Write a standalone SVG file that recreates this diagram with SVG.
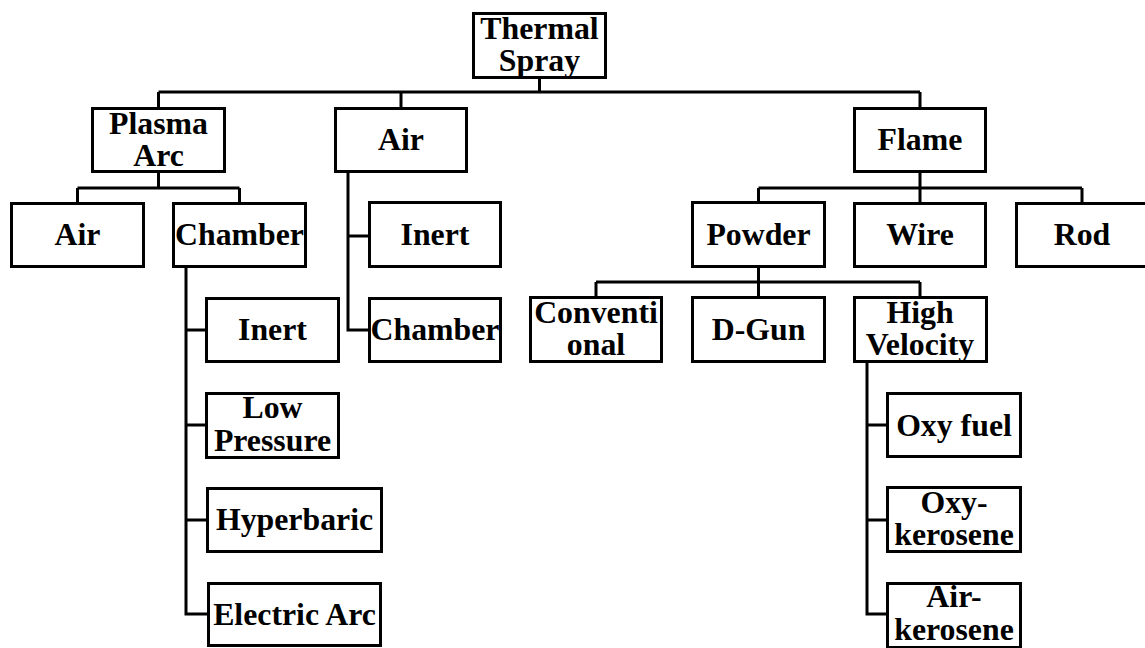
<svg xmlns="http://www.w3.org/2000/svg" width="1145" height="648" viewBox="0 0 1145 648">
<style>
rect{fill:#fff;stroke:#000;stroke-width:3}
text{font-family:'Liberation Serif','Times New Roman',Times,serif;font-weight:700;font-size:31.8px;text-anchor:middle;fill:#000}
.c{fill:none;stroke:#000;stroke-width:3}
</style>
<rect x="0" y="0" width="1145" height="648" style="stroke:none"/>
<g id="connectors">
<path class="c" d="M539.5,79 V92 M158.5,92 H920 M158.5,92 V107 M401,92 V107 M920,92 V107"/>
<path class="c" d="M158.5,173 V188 M77.5,188 H239.5 M77.5,188 V202 M239.5,188 V202"/>
<path class="c" d="M348,173 V330 H368 M348,236 H368"/>
<path class="c" d="M920,173 V188 M758.5,188 H1082 M758.5,188 V202 M920,188 V202 M1082,188 V202"/>
<path class="c" d="M758.5,268 V282 M596,282 H920 M596,282 V296 M758.5,282 V296 M920,282 V296"/>
<path class="c" d="M186,268 V614 H207 M186,330 H206 M186,425 H206 M186,520 H207"/>
<path class="c" d="M867,363 V614 H886 M867,425 H886 M867,520 H886"/>
</g>
<g font-family="Liberation Serif, serif" font-weight="bold">
<g id="thermal-spray"><rect x="473.5" y="13.5" width="132" height="64"/><text x="539.5" y="39">Thermal</text><text x="539.5" y="71">Spray</text></g>
<g id="plasma-arc"><rect x="92.5" y="108.5" width="132" height="63"/><text x="158.5" y="133.5">Plasma</text><text x="158.5" y="165.5">Arc</text></g>
<g id="air-mid"><rect x="335.5" y="108.5" width="131" height="63"/><text x="401" y="150">Air</text></g>
<g id="flame"><rect x="854.5" y="108.5" width="131" height="63"/><text x="920" y="150">Flame</text></g>
<g id="air-left"><rect x="11.5" y="203.5" width="132" height="63"/><text x="77.5" y="245">Air</text></g>
<g id="chamber-left"><rect x="173.5" y="203.5" width="132" height="63"/><text x="239.5" y="245">Chamber</text></g>
<g id="inert-mid"><rect x="369.5" y="202.5" width="131" height="64"/><text x="435" y="245">Inert</text></g>
<g id="chamber-mid"><rect x="369.5" y="298.5" width="131" height="63"/><text x="435" y="340">Chamber</text></g>
<g id="powder"><rect x="692.5" y="202.5" width="132" height="64"/><text x="758.5" y="245">Powder</text></g>
<g id="wire"><rect x="854.5" y="203.5" width="131" height="63"/><text x="920" y="245">Wire</text></g>
<g id="rod"><rect x="1016.5" y="203.5" width="131" height="63"/><text x="1082" y="245">Rod</text></g>
<g id="inert-left"><rect x="206.5" y="298.5" width="132" height="63"/><text x="272.5" y="340">Inert</text></g>
<g id="low-pressure"><rect x="206.5" y="393.5" width="132" height="64"/><text x="272.5" y="418">Low</text><text x="272.5" y="451">Pressure</text></g>
<g id="hyperbaric"><rect x="207.5" y="488.5" width="174" height="63"/><text x="294.5" y="530">Hyperbaric</text></g>
<g id="electric-arc"><rect x="208.5" y="583.5" width="172" height="62"/><text x="294.5" y="625">Electric Arc</text></g>
<g id="conventional"><rect x="530.5" y="297.5" width="131" height="64"/><text x="596" y="323">Conventi</text><text x="596" y="355">onal</text></g>
<g id="d-gun"><rect x="692.5" y="297.5" width="132" height="64"/><text x="758.5" y="340">D-Gun</text></g>
<g id="high-velocity"><rect x="854.5" y="297.5" width="132" height="64"/><text x="920" y="323">High</text><text x="920" y="355">Velocity</text></g>
<g id="oxy-fuel"><rect x="887.5" y="393.5" width="133" height="63"/><text x="954" y="436">Oxy fuel</text></g>
<g id="oxy-kerosene"><rect x="887.5" y="487.5" width="133" height="64"/><text x="954" y="513">Oxy-</text><text x="954" y="545">kerosene</text></g>
<g id="air-kerosene"><rect x="887.5" y="583.5" width="133" height="64"/><text x="954" y="607">Air-</text><text x="954" y="640">kerosene</text></g>
</g>
</svg>
